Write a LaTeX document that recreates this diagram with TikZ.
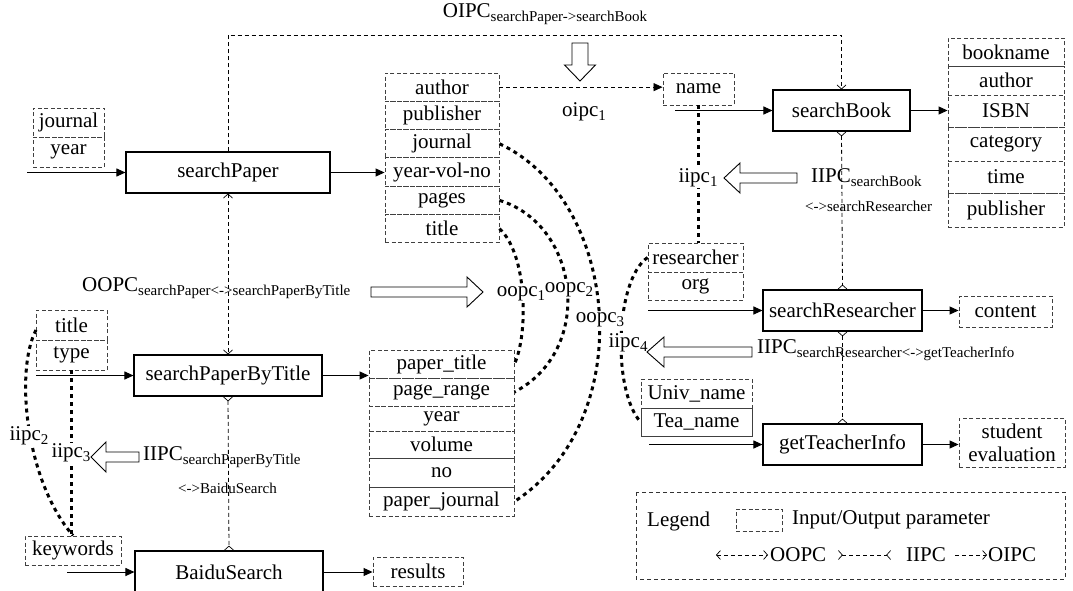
\documentclass[tikz,border=0pt]{standalone}
\usepackage{fontspec}
\setmainfont{Liberation Serif}
\usetikzlibrary{arrows.meta,calc}
\newcommand\sbs[1]{\raisebox{-4pt}{\fontsize{15}{15}\selectfont #1}}
\newcommand\HArrow[4]{\draw[hollow] (#1,#4-5) -- (#2,#4-5) -- (#2,#4-15) -- (#3,#4) -- (#2,#4+15) -- (#2,#4+5) -- (#1,#4+5) -- cycle;}
\newcommand\VArrow[4]{\draw[hollow] (#1-8,#2) -- (#1-8,#3) -- (#1-15.5,#3) -- (#1,#4) -- (#1+15.5,#3) -- (#1+8,#3) -- (#1+8,#2) -- cycle;}
\tikzset{
  proc/.style={draw, line width=1.1pt, inner sep=0pt},
  par/.style={draw=black!75, dash pattern=on 4pt off 2.5pt, line width=0.9pt, inner sep=0pt},
  flow/.style={-{Triangle[length=9pt,width=8pt]}, line width=1pt},
  tipo/.tip={Straight Barb[length=4pt,width=9pt,line width=0.7pt]},
  tipr/.tip={Straight Barb[length=4pt,width=9pt,line width=0.7pt,reversed]},
  oopc/.style={dash pattern=on 4pt off 3pt, line width=0.8pt, tipo-tipo},
  iipc/.style={dash pattern=on 4pt off 3pt, line width=0.8pt, tipr-tipr},
  oipc/.style={dash pattern=on 4pt off 3pt, line width=0.8pt, -tipo},
  dots/.style={line width=3pt, dash pattern=on 4pt off 4pt},
  lbl/.style={fill=white, inner sep=1pt},
  hollow/.style={draw, fill=white, line width=0.9pt},
}
\begin{document}
\begin{tikzpicture}[x=1pt, y=-1pt, font=\fontsize{21}{24}\selectfont]
\useasboundingbox (0,0) rectangle (1073,591);

% process boxes
\node[proc, minimum width=204pt, minimum height=41pt] (sp) at (228,172.5) {searchPaper};
\node[proc, minimum width=188pt, minimum height=41pt] (spt) at (228,375.5) {searchPaperByTitle};
\node[proc, minimum width=188pt, minimum height=42pt] (bs) at (229,572) {BaiduSearch};
\node[proc, minimum width=137pt, minimum height=41pt] (sb) at (841.5,110.5) {searchBook};
\node[proc, minimum width=159pt, minimum height=41pt] (sr) at (842.5,310.5) {searchResearcher};
\node[proc, minimum width=159pt, minimum height=41pt] (gt) at (842.5,444.5) {getTeacherInfo};

% table 1
\begin{scope}[every node/.style={par, minimum width=114pt, minimum height=28.3pt}]
\node (aauth) at (442,87.15) {author};
\node (apub) at (442,115.45) {publisher};
\node (ajour) at (442,143.75) {journal};
\node (ayvn) at (442,172.05) {year-vol-no};
\node (apages) at (442,200.35) {pages};
\node (atitle) at (442,228.65) {title};
\end{scope}

% book table
\begin{scope}[every node/.style={par, minimum width=116pt}]
\node[minimum height=28pt] (bname) at (1006,52) {bookname};
\node[minimum height=29pt] (bauth) at (1006,80.5) {author};
\node[minimum height=32pt] (bisbn) at (1006,111) {ISBN};
\node[minimum height=34pt] (bcat) at (1006,144) {category};
\node[minimum height=32pt] (btime) at (1006,177) {time};
\node[minimum height=34pt] (bpub) at (1006,210) {publisher};
\end{scope}

% table 2
\begin{scope}[every node/.style={par, minimum width=145pt}]
\node[minimum height=28pt] (cptitle) at (441.5,364) {paper\_title};
\node[minimum height=28pt] (cprange) at (441.5,392) {page\_range};
\node[minimum height=25pt] (cyear) at (441.5,418.5) {year};
\node[minimum height=27pt] (cvol) at (441.5,444.5) {volume};
\node[minimum height=29pt] (cno) at (441.5,472.5) {no};
\node[minimum height=29pt] (cpjour) at (441.5,501.5) {paper\_journal};
\end{scope}

% other parameter boxes
\node[par, minimum width=71pt, minimum height=29pt] (injour) at (68.5,122.5) {journal};
\node[par, minimum width=71pt, minimum height=30pt] (inyear) at (68.5,152) {year};
\node[par, minimum width=71pt, minimum height=32pt] (name) at (698.5,89) {name};
\node[par, minimum width=95pt, minimum height=29pt] (resr) at (695.5,257.5) {researcher};
\node[par, minimum width=95pt, minimum height=28pt] (org) at (695.5,286) {org};
\node[par, minimum width=71pt, minimum height=30pt] (intitle) at (71.5,325) {title};
\node[par, minimum width=71pt, minimum height=30pt] (intype) at (71.5,355) {type};
\node[par, minimum width=111pt, minimum height=29pt] (univ) at (696.5,393.5) {Univ\_name};
\node[draw=black!75, line width=0.9pt, inner sep=0pt, minimum width=111pt, minimum height=28pt] (tea) at (696.5,422) {Tea\_name};
\node[par, minimum width=93pt, minimum height=31pt] (content) at (1005.5,311.5) {content};
\node[par, minimum width=106pt, minimum height=49pt, align=center, font=\fontsize{21}{23}\selectfont] (stud) at (1012,442.5) {student\\evaluation};
\node[par, minimum width=96pt, minimum height=29pt] (kw) at (73,550.5) {keywords};
\node[par, minimum width=90pt, minimum height=29pt] (results) at (418,571.5) {results};

% input coordinates
\coordinate (in1) at (27,172.5);
\coordinate (in2) at (36,375.5);
\coordinate (in3) at (67,572);
\coordinate (in4) at (675,110.5);
\coordinate (in5) at (648,310.5);
\coordinate (in6) at (649,444.5);
\coordinate (top) at (545,35);

% flow arrows
\draw[flow] (in1) -- (sp.west);
\draw[flow] (sp.east) -- (sp.east -| ayvn.west);
\draw[flow] (in2) -- (spt.west);
\draw[flow] (spt.east) -- (spt.east -| cptitle.west);
\draw[flow] (in3) -- (bs.west);
\draw[flow] (bs.east) -- (bs.east -| results.west);
\draw[flow] (in4) -- (sb.west);
\draw[flow] (sb.east) -- (sb.east -| bisbn.west);
\draw[flow] (in5) -- (sr.west);
\draw[flow] (sr.east) -- (sr.east -| content.west);
\draw[flow] (in6) -- (gt.west);
\draw[flow] (gt.east) -- (gt.east -| stud.west);
\draw[-{Triangle[length=9pt,width=8pt]}, dash pattern=on 4pt off 3pt, line width=0.8pt] (aauth.east) -- (aauth.east -| name.west);

% protocol connectors
\draw[oipc] (sp.north) |- (top) -| (sb.north);
\draw[oopc] (sp.south) -- (spt.north);
\draw[iipc] (spt.south) -- (bs.north);
\draw[iipc] (sb.south) -- (sr.north);
\draw[iipc] (sr.south) -- (gt.north);

% thick dotted correspondences
\draw[dots] (atitle.east) .. controls (528,255) and (528,335) .. (cptitle.east);
\draw[dots] (apages.east) .. controls (580,225) and (595,350) .. (cprange.east);
\draw[dots] (ajour.east) .. controls (620,200) and (640,420) .. (cpjour.east);
\draw[dots] (resr.west) .. controls (615,280) and (612,390) .. (tea.west);
\draw[dots] (name.south) -- (name.south |- resr.north);
\draw[dots] (36,330) .. controls (15,370) and (25,480) .. (kw.north);
\draw[dots] (intype.south) -- (intype.south |- kw.north);

% labels
\node[lbl] (l_oipc1) at (584,112) {oipc\sbs{1}};
\node[lbl] (l_iipc1) at (698,178) {iipc\sbs{1}};
\node[lbl] (l_oopc1) at (521,294) {oopc\sbs{1}};
\node[lbl] (l_oopc2) at (569,290) {oopc\sbs{2}};
\node[lbl] (l_oopc3) at (600,320) {oopc\sbs{3}};
\node[lbl] (l_iipc4) at (628,343) {iipc\sbs{4}};
\node[lbl] (l_iipc2) at (29,436) {iipc\sbs{2}};
\node[lbl] (l_iipc3) at (71,453) {iipc\sbs{3}};

\node (t_oipc) at (545,14) {OIPC\sbs{searchPaper->searchBook}};
\node[anchor=west, inner sep=0pt] (t_oopc) at (82,288) {OOPC\sbs{searchPaper<->searchPaperByTitle}};
\node[anchor=west, inner sep=0pt] (t_iipcb) at (811,178) {IIPC\sbs{searchBook}};
\node[anchor=west, inner sep=0pt, font=\fontsize{15}{15}\selectfont] (t_iipcb2) at (805,206) {<->searchResearcher};
\node[anchor=west, inner sep=0pt] (t_iipcr) at (757,350) {IIPC\sbs{searchResearcher<->getTeacherInfo}};
\node[anchor=west, inner sep=0pt] (t_iipcs) at (143,457) {IIPC\sbs{searchPaperByTitle}};
\node[anchor=west, inner sep=0pt, font=\fontsize{15}{15}\selectfont] (t_iipcs2) at (178,488) {<->BaiduSearch};

% hollow arrows
\VArrow{580}{43}{65}{81}
\HArrow{371}{467}{483}{292}
\HArrow{797}{740}{724}{178}
\HArrow{752}{664}{647}{352}
\HArrow{139}{106}{91}{457}

% legend
\draw[dash pattern=on 4pt off 3pt, line width=0.8pt, draw=black!80] (636,492) rectangle (1065,579);
\node[anchor=west, inner sep=0pt] (lg) at (647,521) {Legend};
\node[par, minimum width=46pt, minimum height=22pt] (lgbox) at (759,520) {};
\node[anchor=west, inner sep=0pt] (lgio) at (792,520) {Input/Output parameter};
\coordinate (lo1) at (716,555);
\coordinate (lo2) at (768,555);
\node[anchor=west, inner sep=0pt] (lgoopc) at (770,555) {OOPC};
\coordinate (li1) at (838,555);
\coordinate (li2) at (891,555);
\node[anchor=west, inner sep=0pt] (lgiipc) at (906,555) {IIPC};
\coordinate (lp1) at (955,555);
\coordinate (lp2) at (987,555);
\node[anchor=west, inner sep=0pt] (lgoipc) at (988,555) {OIPC};
\draw[oopc] (lo1) -- (lo2);
\draw[iipc] (li1) -- (li2);
\draw[oipc] (lp1) -- (lp2);
\end{tikzpicture}
\end{document}
